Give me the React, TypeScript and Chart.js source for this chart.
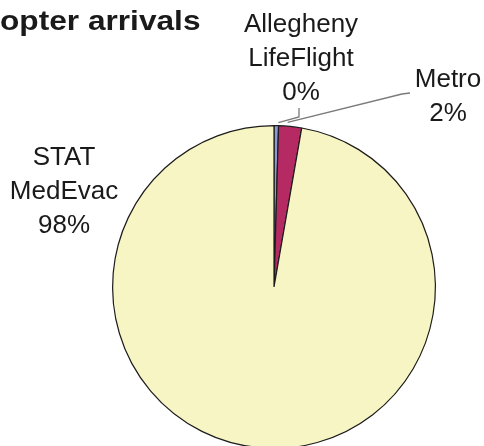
import React, { useEffect, useRef } from "react";
import { Chart, registerables } from "chart.js";

Chart.register(...registerables);

const categories = ["Allegheny LifeFlight", "Metro", "STAT MedEvac"];
const shares = [0.45, 2.3, 97.25];
const percentLabels = ["0%", "2%", "98%"];
const labelLines = [["Allegheny", "LifeFlight", "0%"], ["Metro", "2%"], ["STAT", "MedEvac", "98%"]];
const sliceColors = ["#8c9bd2", "#b52a62", "#f8f5c4"];
const titleText = "opter arrivals";

export default function App() {
  const ref = useRef<HTMLCanvasElement | null>(null);

  useEffect(() => {
    if (!ref.current) return;
    const labelPlugin = {
      id: "labelPlugin",
      afterDraw(chart: any) {
        const ctx = chart.ctx as CanvasRenderingContext2D;
        const meta = chart.getDatasetMeta(0);
        const arcs = meta.data;
        ctx.save();
        // title
        ctx.save();
        ctx.font = "bold 28px 'Liberation Sans', Arial, sans-serif";
        ctx.fillStyle = "#1a1a1a";
        ctx.textBaseline = "alphabetic";
        ctx.textAlign = "left";
        ctx.translate(0, 30);
        ctx.scale(1.13, 1);
        ctx.fillText(titleText, 0, 0);
        ctx.restore();

        const edge = (i: number, extra: number) => {
          const a = arcs[i];
          const p = a.getProps(["x", "y", "startAngle", "endAngle", "outerRadius"], true);
          const mid = (p.startAngle + p.endAngle) / 2;
          return { x: p.x + Math.cos(mid) * (p.outerRadius + extra), y: p.y + Math.sin(mid) * (p.outerRadius + extra) };
        };

        // leader lines
        ctx.strokeStyle = "#7a7a7a";
        ctx.lineWidth = 1.3;
        const e0 = edge(0, 3);
        ctx.beginPath();
        ctx.moveTo(299, 108);
        ctx.lineTo(299, 117);
        ctx.lineTo(e0.x + 2, e0.y);
        ctx.stroke();
        const e1 = edge(1, 4);
        ctx.beginPath();
        ctx.moveTo(410, 93);
        ctx.lineTo(402, 94);
        ctx.lineTo(e1.x - 3, e1.y);
        ctx.stroke();

        // labels
        ctx.font = "26px 'Liberation Sans', Arial, sans-serif";
        ctx.fillStyle = "#1a1a1a";
        ctx.textAlign = "center";
        ctx.textBaseline = "alphabetic";
        const anchors = [
          { x: 301, y: 32 },
          { x: 448, y: 87 },
          { x: 64, y: 165 },
        ];
        labelLines.forEach((lines, i) => {
          lines.forEach((t, j) => {
            ctx.fillText(t, anchors[i].x, anchors[i].y + j * 34);
          });
        });
        ctx.restore();
      },
    };

    const chart = new Chart(ref.current, {
      type: "pie",
      data: {
        labels: categories,
        datasets: [
          {
            data: shares,
            backgroundColor: sliceColors,
            borderColor: "#1c1c1c",
            borderWidth: 1.2,
          },
        ],
      },
      options: {
        responsive: false,
        animation: false,
        layout: { padding: { left: 112, right: 48, top: 125, bottom: 3 } },
        plugins: {
          legend: { display: false },
          tooltip: { enabled: false },
          title: { display: false },
        },
      },
      plugins: [labelPlugin],
    });
    return () => chart.destroy();
  }, []);

  return (
    <div
      style={{
        position: "fixed",
        left: 0,
        top: 0,
        width: 484,
        height: 446,
        overflow: "hidden",
        background: "#ffffff",
      }}
    >
      <canvas ref={ref} width={484} height={452} style={{ display: "block" }} aria-label={percentLabels.join(", ")} />
    </div>
  );
}
